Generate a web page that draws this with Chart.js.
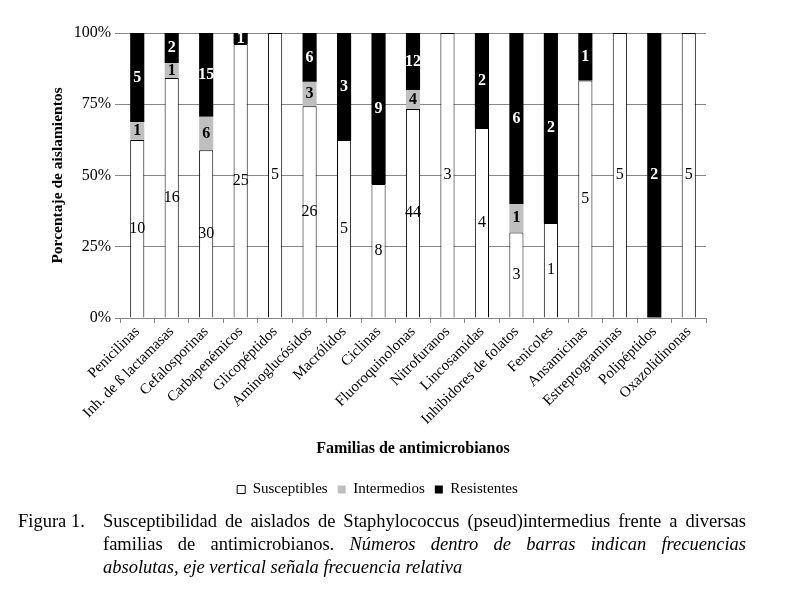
<!DOCTYPE html>
<html>
<head>
<meta charset="utf-8">
<script src="https://cdn.jsdelivr.net/npm/chart.js@4"></script>
<style>
  body { margin: 0; background: #fff; }
  #wrap { position: relative; width: 785px; height: 590px; }
  #caption {
    position: absolute; left: 18px; top: 510px; width: 728px;
    font-family: "Liberation Serif", serif; font-size: 18.5px; line-height: 23px; color: #000;
  }
  #caption .num { position: absolute; left: 0; top: 0; }
  #caption .line { margin-left: 85px; text-align: justify; text-align-last: justify; white-space: nowrap; }
  #caption .line.last { text-align-last: left; }
</style>
</head>
<body>
<div id="wrap">
  <canvas id="chart" width="785" height="590"></canvas>
  <div id="caption">
    <span class="num">Figura 1.</span>
    <div class="line">Susceptibilidad de aislados de Staphylococcus (pseud)intermedius frente a diversas</div>
    <div class="line">familias de antimicrobianos. <i>Números dentro de barras indican frecuencias</i></div>
    <div class="line last"><i>absolutas, eje vertical señala frecuencia relativa</i></div>
  </div>
</div>
<script>
// Families and absolute counts per category
const families = [
  "Penicilinas", "Inh. de ß lactamasas", "Cefalosporinas", "Carbapenémicos",
  "Glicopéptidos", "Aminoglucósidos", "Macrólidos", "Ciclinas",
  "Fluoroquinolonas", "Nitrofuranos", "Lincosamidas", "Inhibidores de folatos",
  "Fenicoles", "Ansamicinas", "Estreptograminas", "Polipéptidos", "Oxazolidinonas",
];
const susceptibles = [10, 16, 30, 25, 5, 26, 5, 8, 44, 3, 4, 3, 1, 5, 5, 0, 5];
const intermedios  = [1, 1, 6, 0, 0, 3, 0, 0, 4, 0, 0, 1, 0, 0, 0, 0, 0];
const resistentes  = [5, 2, 15, 1, 0, 6, 3, 9, 12, 0, 2, 6, 2, 1, 0, 2, 0];
const yTicks = [0, 25, 50, 75, 100];

const totals = families.map((_, i) => susceptibles[i] + intermedios[i] + resistentes[i]);
const toPct = (arr) => arr.map((v, i) => (v / totals[i]) * 100);

const serif = "'Liberation Serif', 'Times New Roman', serif";

// draws the absolute counts in the middle of each segment
const countLabels = {
  id: "countLabels",
  afterDatasetsDraw(chart) {
    const ctx = chart.ctx;
    ctx.save();
    ctx.textAlign = "center";
    ctx.textBaseline = "middle";
    chart.data.datasets.forEach((ds, di) => {
      const meta = chart.getDatasetMeta(di);
      meta.data.forEach((bar, i) => {
        const n = ds.counts[i];
        if (!n) return;
        ctx.fillStyle = di === 2 ? "#fff" : "#000";
        ctx.font = (di === 0 ? "" : "bold ") + "16px " + serif;
        ctx.fillText(String(n), bar.x, (bar.y + bar.base) / 2);
      });
    });
    ctx.restore();
  },
};

new Chart(document.getElementById("chart"), {
  type: "bar",
  data: {
    labels: families,
    datasets: [
      { label: "Susceptibles", data: toPct(susceptibles), counts: susceptibles,
        backgroundColor: "#ffffff", borderColor: "#000", borderWidth: 1 },
      { label: "Intermedios", data: toPct(intermedios), counts: intermedios,
        backgroundColor: "#bfbfbf", borderColor: "#bfbfbf", borderWidth: 0 },
      { label: "Resistentes", data: toPct(resistentes), counts: resistentes,
        backgroundColor: "#000000", borderColor: "#000", borderWidth: 0 },
    ],
  },
  options: {
    responsive: false,
    animation: false,
    layout: { padding: { top: 33, right: 79, bottom: 83, left: 49 } },
    datasets: { bar: { barPercentage: 0.41, categoryPercentage: 1 } },
    scales: {
      x: {
        stacked: true,
        afterFit: (s) => { s.height = 154; },
        grid: { offset: true, drawOnChartArea: false, tickLength: 5, color: "#888" },
        border: { color: "#888" },
        ticks: { minRotation: 45, maxRotation: 45, autoSkip: false, color: "#000",
          font: { family: serif, size: 15 }, padding: 0 },
        title: { display: true, text: "Familias de antimicrobianos", color: "#000",
          font: { family: serif, size: 16, weight: "bold" }, padding: { top: 0, bottom: 14 } },
      },
      y: {
        stacked: true,
        min: 0, max: 100,
        afterFit: (s) => { s.width = 71; },
        afterBuildTicks: (s) => { s.ticks = yTicks.map((v) => ({ value: v })); },
        grid: { color: "#888", tickLength: 5 },
        border: { display: false },
        ticks: { color: "#000", font: { family: serif, size: 16 }, padding: 4,
          callback: (v) => v + "%" },
        title: { display: true, text: "Porcentaje de aislamientos", color: "#000",
          font: { family: serif, size: 15.5, weight: "bold" }, padding: 0 },
      },
    },
    plugins: {
      legend: {
        position: "bottom",
        labels: { boxWidth: 8, boxHeight: 8, color: "#000", padding: 10,
          font: { family: serif, size: 15 } },
      },
      tooltip: { enabled: false },
    },
  },
  plugins: [countLabels],
});
</script>
</body>
</html>
